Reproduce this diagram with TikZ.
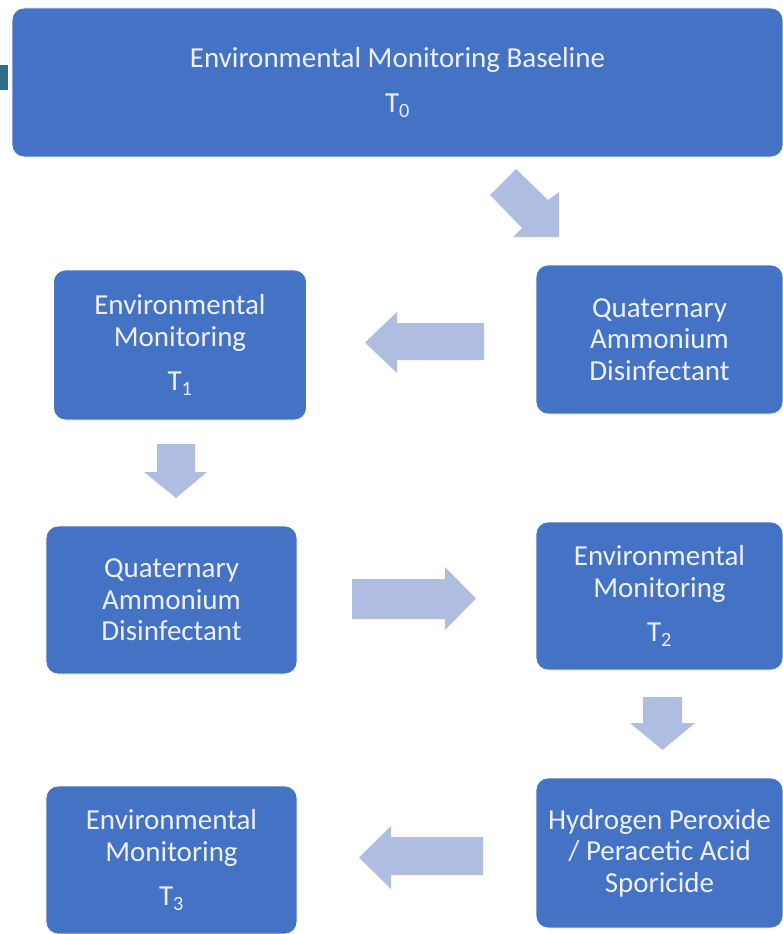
\documentclass[tikz,border=0pt]{standalone}
\usepackage{fontspec}
\setmainfont{Carlito}
\definecolor{boxblue}{RGB}{68,114,196}
\definecolor{arrowblue}{RGB}{174,189,224}
\definecolor{teal}{RGB}{46,110,138}
\definecolor{txt}{RGB}{238,241,248}
\tikzset{
  box/.style={fill=boxblue, draw=white, line width=0.8pt, rounded corners=12pt,
    align=center, text=txt, font=\fontsize{29}{31.5}\selectfont, inner sep=0pt},
  blockarrow/.style={fill=arrowblue, draw=none},
}
\begin{document}
\begin{tikzpicture}[x=1pt,y=-1pt]
\useasboundingbox (0,0) rectangle (783,934);
\fill[teal] (0,65) rectangle (8,90);

\node[box, minimum width=771pt, minimum height=149pt] (base) at (397.5,82.5)
  {Environmental Monitoring Baseline\\[13pt]T\textsubscript{0}};
\node[box, minimum width=253pt, minimum height=150pt] (em1) at (180,345)
  {Environmental\\Monitoring\\[13pt]T\textsubscript{1}};
\node[box, minimum width=247pt, minimum height=149pt] (qa1) at (659.5,339.5)
  {Quaternary\\Ammonium\\Disinfectant};
\node[box, minimum width=251pt, minimum height=148pt] (qa2) at (171.5,600)
  {Quaternary\\Ammonium\\Disinfectant};
\node[box, minimum width=247pt, minimum height=148pt] (em2) at (659.5,596)
  {Environmental\\Monitoring\\[13pt]T\textsubscript{2}};
\node[box, minimum width=247pt, minimum height=150pt] (hp) at (659.5,853)
  {Hydrogen Peroxide\\/ Peracetic Acid\\Sporicide};
\node[box, minimum width=251pt, minimum height=148pt] (em3) at (171.5,860)
  {Environmental\\Monitoring\\[13pt]T\textsubscript{3}};

% block arrows
\fill[blockarrow] (490,195) -- (516,169) -- (548,200) -- (559,192) -- (559,237) -- (513,237) -- (522,228) -- cycle;
\fill[blockarrow] (484,323) -- (397,323) -- (397,312) -- (365,342.5) -- (397,373) -- (397,360) -- (484,360) -- cycle;
\fill[blockarrow] (157,444) -- (195,444) -- (195,472) -- (207,472) -- (176,498) -- (144,472) -- (157,472) -- cycle;
\fill[blockarrow] (352,579) -- (445,579) -- (445,567) -- (476,598.5) -- (445,630) -- (445,619) -- (352,619) -- cycle;
\fill[blockarrow] (643,697) -- (682,697) -- (682,723) -- (695,723) -- (662.5,750) -- (630,723) -- (643,723) -- cycle;
\fill[blockarrow] (483,837) -- (391,837) -- (391,826) -- (359,857.5) -- (391,889) -- (391,875) -- (483,875) -- cycle;
\end{tikzpicture}
\end{document}
